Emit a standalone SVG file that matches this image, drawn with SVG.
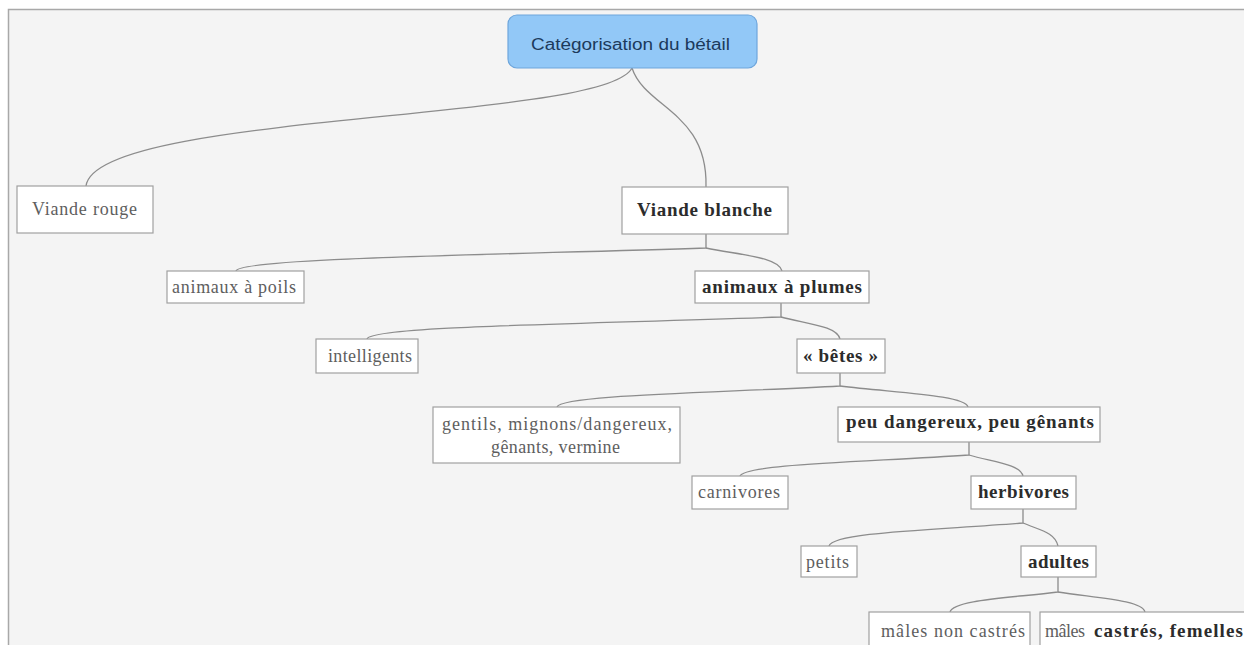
<svg xmlns="http://www.w3.org/2000/svg" width="1244" height="645" viewBox="0 0 1244 645">
<style>
.bg{fill:#f4f4f4}
.frame{stroke:#a8a8a8;stroke-width:1.5;fill:none}
.box{fill:#ffffff;stroke:#a0a0a0;stroke-width:1.2}
.root{fill:#92c8f7;stroke:#6ea6dc;stroke-width:1.2}
.t{font-family:"Liberation Serif",serif;font-size:18px;fill:#5e5e5e;text-anchor:start}
.b{font-family:"Liberation Serif",serif;font-size:19px;font-weight:bold;fill:#2c2c2c;text-anchor:start}
.rt{font-family:"Liberation Sans",Arial,sans-serif;font-size:16px;fill:#1c3a5c}
.c{fill:none;stroke:#8c8c8c;stroke-width:1.3}
</style>
<rect x="0" y="0" width="1244" height="645" fill="#ffffff"/>
<rect class="bg" x="9" y="10" width="1235" height="635"/>
<path class="frame" d="M8.5,645 V9.5 H1244"/>
<g id="connectors">
<path class="c" d="M632,68 C605,122 95,112 86,186"/>
<path class="c" d="M632,68 C645,108 708,112 706,187"/>
<path class="c" d="M706,234 V248 C495,255 240,258 236,271"/>
<path class="c" d="M706,248 C740,255 779,257 782,271"/>
<path class="c" d="M781,303 V317 C590,324 371,326 367,339"/>
<path class="c" d="M781,317 C808,324 837,326 840,339"/>
<path class="c" d="M840,373 V386 C713,393 561,395 557,407"/>
<path class="c" d="M840,386 C898,393 965,395 968,407"/>
<path class="c" d="M969,442 V455 C866,462 744,464 740,476"/>
<path class="c" d="M969,455 C993,462 1020,464 1023,476"/>
<path class="c" d="M1023,509 V523 C936,530 833,532 829,546"/>
<path class="c" d="M1023,523 C1039,530 1055,532 1058,546"/>
<path class="c" d="M1058,577 V592 C1009,598 953,600 950,612"/>
<path class="c" d="M1058,592 C1096,598 1142,600 1145,612"/>
</g>
<g id="root">
<rect class="root" x="508" y="15" width="249" height="53" rx="9"/>
<text class="rt" x="531" y="50" textLength="199" lengthAdjust="spacingAndGlyphs">Catégorisation du bétail</text>
</g>
<g id="viande-rouge">
<rect class="box" x="17" y="186" width="136" height="47"/>
<text class="t" x="32" y="215" textLength="105">Viande rouge</text>
</g>
<g id="viande-blanche">
<rect class="box" x="622" y="187" width="166" height="47"/>
<text class="b" x="637" y="216" textLength="135">Viande blanche</text>
</g>
<g id="animaux-poils">
<rect class="box" x="167" y="271" width="137" height="32"/>
<text class="t" x="172" y="293" textLength="124">animaux à poils</text>
</g>
<g id="animaux-plumes">
<rect class="box" x="695" y="271" width="174" height="32"/>
<text class="b" x="702" y="293" textLength="160">animaux à plumes</text>
</g>
<g id="intelligents">
<rect class="box" x="316" y="339" width="102" height="34"/>
<text class="t" x="328" y="362" textLength="84">intelligents</text>
</g>
<g id="betes">
<rect class="box" x="797" y="339" width="88" height="34"/>
<text class="b" x="803" y="362" textLength="75">« bêtes »</text>
</g>
<g id="gentils">
<rect class="box" x="433" y="407" width="247" height="56"/>
<text class="t"><tspan x="442" y="430" textLength="230">gentils, mignons/dangereux,</tspan><tspan x="491" y="453" textLength="129">gênants, vermine</tspan></text>
</g>
<g id="peu-dangereux">
<rect class="box" x="838" y="407" width="262" height="35"/>
<text class="b" x="846" y="428" textLength="248">peu dangereux, peu gênants</text>
</g>
<g id="carnivores">
<rect class="box" x="692" y="476" width="96" height="33"/>
<text class="t" x="698" y="498" textLength="82">carnivores</text>
</g>
<g id="herbivores">
<rect class="box" x="971" y="476" width="105" height="33"/>
<text class="b" x="978" y="498" textLength="91">herbivores</text>
</g>
<g id="petits">
<rect class="box" x="801" y="546" width="56" height="31"/>
<text class="t" x="806" y="568" textLength="43">petits</text>
</g>
<g id="adultes">
<rect class="box" x="1021" y="546" width="75" height="31"/>
<text class="b" x="1028" y="568" textLength="61">adultes</text>
</g>
<g id="males-non-castres">
<rect class="box" x="869" y="612" width="161" height="40"/>
<text class="t" x="881" y="637" textLength="144">mâles non castrés</text>
</g>
<g id="males-castres-femelles">
<rect class="box" x="1040" y="612" width="214" height="40"/>
<text class="t" x="1045" y="637"><tspan textLength="44">mâles </tspan><tspan x="1094" font-weight="bold" fill="#2c2c2c" font-size="19" textLength="149">castrés, femelles</tspan></text>
</g>
</svg>
